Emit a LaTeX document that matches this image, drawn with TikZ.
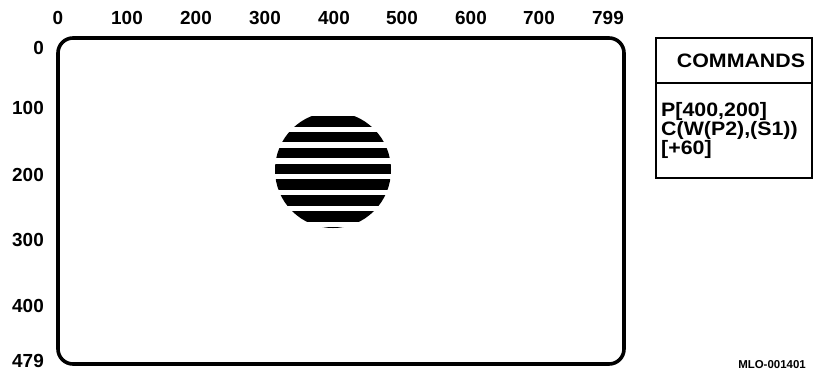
\documentclass[tikz,border=0pt]{standalone}
\usepackage{fontspec}
\setmainfont{Liberation Sans}
\newfontfamily\widesans[FakeStretch=1.1]{Liberation Sans}
\usepackage{tikz}
\usetikzlibrary{positioning}

\begin{document}
\begin{tikzpicture}[
    x=1bp, y=-1bp,
    axlbl/.style={font=\fontsize{19}{19}\selectfont\bfseries, inner sep=0pt},
    cmdtxt/.style={font=\widesans\fontsize{19.5}{17.5}\selectfont\bfseries, inner sep=0pt},
  ]
  \useasboundingbox (0,0) rectangle (817,372);

  % Screen outline
  \draw[line width=3.6bp, rounded corners=15bp] (58,38) rectangle (624,364);

  % Column numbers
  \foreach \v/\px in {0/58,100/127,200/196,300/265,400/334,500/402,600/471,700/539,799/608} {
    \node[axlbl] (col\v) at (\px,18) {\v};
  }
  % Row numbers
  \foreach \v/\py in {0/48,100/108,200/175,300/240,400/306,479/361} {
    \node[axlbl, anchor=east] (row\v) at (44,\py) {\v};
  }

  % Striped circle
  \begin{scope}
    \clip (333,170) circle [radius=58];
    \foreach \k in {0,...,7} {
      \fill (270,{116+15.86*\k}) rectangle (396,{126.5+15.86*\k});
    }
  \end{scope}

  % Commands box
  \draw[line width=1.8bp] (656,38) rectangle (812,178);
  \draw[line width=1.8bp] (656,83) -- (812,83);
  \node[cmdtxt] (cmdhead) at (741,61) {COMMANDS};
  \node[cmdtxt, anchor=north west, align=left] (cmdlist) at (661,102)
    {P[400,200]\\C(W(P2),(S1))\\{[+60]}};

  % Figure tag
  \node[font=\fontsize{11.5}{11.5}\selectfont\bfseries, inner sep=0pt] (tag) at (772,365) {MLO-001401};

\end{tikzpicture}
\end{document}
